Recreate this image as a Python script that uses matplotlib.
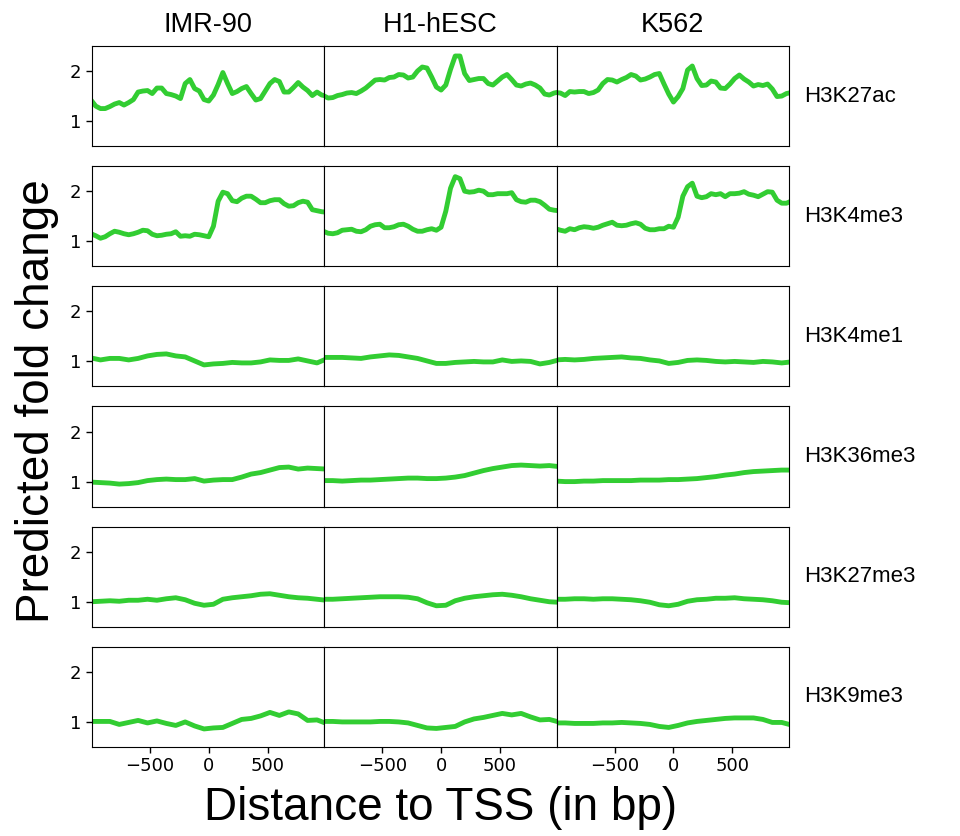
import numpy as np
import matplotlib
matplotlib.use("Agg")
import matplotlib.pyplot as plt

# ---------------- data ----------------
cell_lines = ["IMR-90", "H1-hESC", "K562"]
marks = ["H3K27ac", "H3K4me3", "H3K4me1", "H3K36me3", "H3K27me3", "H3K9me3"]

x_fine = np.arange(-1000, 1001, 40)     # 51 positions (bp)
x_coarse = np.arange(-1000, 1001, 80)   # 26 positions (bp)

h3k27ac_imr90 = [1.42, 1.30, 1.25, 1.25, 1.29, 1.34, 1.37, 1.32, 1.37, 1.43,
                 1.58, 1.60, 1.61, 1.55, 1.66, 1.66, 1.55, 1.53, 1.50, 1.45,
                 1.75, 1.83, 1.65, 1.60, 1.43, 1.40, 1.52, 1.73, 1.97, 1.75,
                 1.55, 1.59, 1.65, 1.69, 1.55, 1.42, 1.45, 1.60, 1.75, 1.83,
                 1.79, 1.58, 1.58, 1.67, 1.77, 1.68, 1.61, 1.51, 1.58, 1.52, 1.50]
h3k27ac_h1 = [1.51, 1.46, 1.47, 1.51, 1.53, 1.56, 1.57, 1.55, 1.60, 1.66,
              1.74, 1.82, 1.83, 1.82, 1.87, 1.88, 1.93, 1.92, 1.86, 1.88,
              2.00, 2.08, 2.06, 1.88, 1.68, 1.62, 1.72, 2.03, 2.30, 2.30,
              1.95, 1.81, 1.83, 1.85, 1.85, 1.75, 1.72, 1.80, 1.88, 1.93,
              1.83, 1.72, 1.70, 1.74, 1.76, 1.72, 1.66, 1.54, 1.52, 1.56, 1.58]
h3k27ac_k562 = [1.57, 1.56, 1.51, 1.59, 1.58, 1.59, 1.59, 1.55, 1.57, 1.62,
                1.75, 1.83, 1.82, 1.78, 1.83, 1.87, 1.93, 1.90, 1.82, 1.84,
                1.88, 1.93, 1.95, 1.74, 1.54, 1.38, 1.49, 1.65, 2.02, 2.10,
                1.85, 1.71, 1.72, 1.80, 1.78, 1.66, 1.65, 1.74, 1.85, 1.92,
                1.84, 1.78, 1.70, 1.73, 1.71, 1.74, 1.64, 1.49, 1.50, 1.55, 1.57]

h3k4me3_imr90 = [1.15, 1.11, 1.06, 1.09, 1.15, 1.20, 1.18, 1.15, 1.13, 1.15,
                 1.18, 1.22, 1.21, 1.14, 1.11, 1.12, 1.14, 1.15, 1.19, 1.10,
                 1.11, 1.10, 1.14, 1.13, 1.11, 1.09, 1.30, 1.80, 1.98, 1.95,
                 1.81, 1.79, 1.86, 1.90, 1.90, 1.84, 1.77, 1.77, 1.81, 1.83,
                 1.83, 1.75, 1.70, 1.71, 1.77, 1.80, 1.78, 1.63, 1.61, 1.59, 1.58]
h3k4me3_h1 = [1.20, 1.16, 1.15, 1.17, 1.22, 1.23, 1.24, 1.20, 1.19, 1.23,
              1.30, 1.33, 1.34, 1.27, 1.27, 1.29, 1.33, 1.34, 1.30, 1.24,
              1.20, 1.20, 1.23, 1.25, 1.22, 1.28, 1.60, 2.06, 2.29, 2.25,
              2.00, 1.98, 1.99, 2.02, 2.00, 1.93, 1.93, 1.95, 1.95, 1.95,
              1.97, 1.83, 1.79, 1.78, 1.82, 1.82, 1.79, 1.72, 1.64, 1.62, 1.61]
h3k4me3_k562 = [1.25, 1.22, 1.20, 1.25, 1.23, 1.27, 1.29, 1.28, 1.26, 1.28,
                1.32, 1.35, 1.38, 1.32, 1.31, 1.32, 1.35, 1.37, 1.34, 1.26,
                1.23, 1.23, 1.25, 1.25, 1.30, 1.28, 1.48, 1.90, 2.09, 2.16,
                1.90, 1.87, 1.89, 1.95, 1.93, 1.95, 1.89, 1.95, 1.95, 1.96,
                1.99, 1.94, 1.92, 1.89, 1.94, 1.99, 1.98, 1.82, 1.76, 1.76, 1.80]

h3k4me1_imr90 = [1.07, 1.03, 1.06, 1.06, 1.03, 1.06, 1.11, 1.14, 1.15, 1.11,
                 1.09, 1.01, 0.93, 0.95, 0.96, 0.98, 0.97, 0.97, 0.99, 1.03,
                 1.02, 1.02, 1.05, 1.01, 0.97, 1.05]
h3k4me1_h1 = [1.08, 1.08, 1.08, 1.07, 1.06, 1.09, 1.11, 1.13, 1.12, 1.09,
              1.06, 1.01, 0.96, 0.96, 0.98, 0.99, 1.00, 0.99, 0.99, 1.03,
              1.00, 1.01, 1.00, 0.95, 0.98, 1.03]
h3k4me1_k562 = [1.03, 1.04, 1.03, 1.04, 1.06, 1.07, 1.08, 1.09, 1.07, 1.06,
                1.03, 1.01, 0.96, 0.98, 1.02, 1.03, 1.02, 1.00, 0.99, 1.00,
                0.99, 0.98, 1.00, 0.99, 0.97, 0.99]

h3k36me3_imr90 = [0.99, 0.98, 0.97, 0.95, 0.96, 0.98, 1.02, 1.04, 1.05, 1.04,
                  1.04, 1.06, 1.01, 1.03, 1.04, 1.04, 1.09, 1.15, 1.18, 1.23,
                  1.28, 1.29, 1.25, 1.27, 1.26, 1.25]
h3k36me3_h1 = [1.02, 1.02, 1.01, 1.02, 1.03, 1.03, 1.04, 1.05, 1.06, 1.07,
               1.07, 1.06, 1.06, 1.07, 1.09, 1.12, 1.17, 1.22, 1.26, 1.29,
               1.32, 1.33, 1.32, 1.31, 1.32, 1.30]
h3k36me3_k562 = [1.01, 1.00, 1.00, 1.01, 1.01, 1.02, 1.02, 1.02, 1.02, 1.03,
                 1.03, 1.03, 1.04, 1.04, 1.05, 1.06, 1.08, 1.10, 1.13, 1.15,
                 1.18, 1.20, 1.21, 1.22, 1.23, 1.23]

h3k27me3_imr90 = [1.00, 1.01, 1.02, 1.01, 1.03, 1.03, 1.05, 1.03, 1.06, 1.08,
                  1.04, 0.97, 0.93, 0.95, 1.05, 1.08, 1.10, 1.12, 1.15, 1.16,
                  1.13, 1.10, 1.08, 1.07, 1.05, 1.03]
h3k27me3_h1 = [1.05, 1.05, 1.06, 1.07, 1.08, 1.09, 1.10, 1.10, 1.10, 1.09,
               1.06, 0.98, 0.92, 0.93, 1.02, 1.07, 1.10, 1.12, 1.14, 1.15,
               1.13, 1.10, 1.06, 1.03, 1.00, 0.99]
h3k27me3_k562 = [1.05, 1.05, 1.06, 1.06, 1.05, 1.06, 1.06, 1.05, 1.04, 1.02,
                 0.99, 0.94, 0.92, 0.95, 1.01, 1.04, 1.05, 1.07, 1.07, 1.08,
                 1.06, 1.05, 1.04, 1.02, 0.99, 0.98]

h3k9me3_imr90 = [1.01, 1.01, 1.01, 0.95, 0.99, 1.03, 0.98, 1.02, 0.97, 0.93,
                 1.00, 0.92, 0.86, 0.88, 0.89, 0.97, 1.05, 1.07, 1.12, 1.19,
                 1.13, 1.20, 1.16, 1.03, 1.04, 0.97]
h3k9me3_h1 = [1.01, 1.01, 1.00, 1.00, 1.00, 1.00, 1.01, 1.01, 1.00, 0.98,
              0.93, 0.88, 0.87, 0.89, 0.91, 1.00, 1.06, 1.09, 1.13, 1.17,
              1.14, 1.17, 1.10, 1.04, 1.05, 1.00]
h3k9me3_k562 = [0.98, 0.98, 0.97, 0.97, 0.97, 0.98, 0.98, 0.99, 0.98, 0.97,
                0.95, 0.91, 0.89, 0.93, 0.98, 1.01, 1.03, 1.05, 1.07, 1.08,
                1.08, 1.08, 1.05, 0.99, 0.99, 0.94]

rows = [
    (x_fine, [h3k27ac_imr90, h3k27ac_h1, h3k27ac_k562]),
    (x_fine, [h3k4me3_imr90, h3k4me3_h1, h3k4me3_k562]),
    (x_coarse, [h3k4me1_imr90, h3k4me1_h1, h3k4me1_k562]),
    (x_coarse, [h3k36me3_imr90, h3k36me3_h1, h3k36me3_k562]),
    (x_coarse, [h3k27me3_imr90, h3k27me3_h1, h3k27me3_k562]),
    (x_coarse, [h3k9me3_imr90, h3k9me3_h1, h3k9me3_k562]),
]

# ---------------- plot ----------------
label_font = ["Liberation Sans", "DejaVu Sans"]
line_color = "#32CD32"

fig = plt.figure(figsize=(9.6, 8.36), dpi=100)
axes = fig.subplots(6, 3, sharex=True, sharey=True,
                    gridspec_kw=dict(hspace=0.2, wspace=0.0))
fig.subplots_adjust(left=0.0958, right=0.8219, top=0.945, bottom=0.1065)

for r, (xs, series) in enumerate(rows):
    for c, ys in enumerate(series):
        ax = axes[r, c]
        ax.plot(xs, ys, color=line_color, lw=3.5, solid_capstyle="round",
                solid_joinstyle="round")
        ax.set_xlim(-992, 982)
        ax.set_ylim(0.5, 2.5)
        ax.set_yticks([1, 2])
        ax.set_xticks([-500, 0, 500])
        ax.tick_params(labelsize=13, length=4, width=1)
        if c != 0:
            ax.tick_params(axis="y", length=0)
        if r != 5:
            ax.tick_params(axis="x", length=0)
        for sp in ax.spines.values():
            sp.set_linewidth(0.8)
            sp.set_color("black")
        if r == 0:
            ax.set_title(cell_lines[c], fontsize=19.5, pad=10, family=label_font)
        if c == 2:
            ax.text(1.063, 0.5, marks[r], transform=ax.transAxes,
                    ha="left", va="center", fontsize=16, family=label_font)

fig.text(0.039, 0.52, "Predicted fold change", rotation=90, ha="center",
         va="center", fontsize=33, family=label_font)
fig.text(0.459, 0.034, "Distance to TSS (in bp)", ha="center", va="center",
         fontsize=33, family=label_font)

fig.savefig("out.png", dpi=100)
